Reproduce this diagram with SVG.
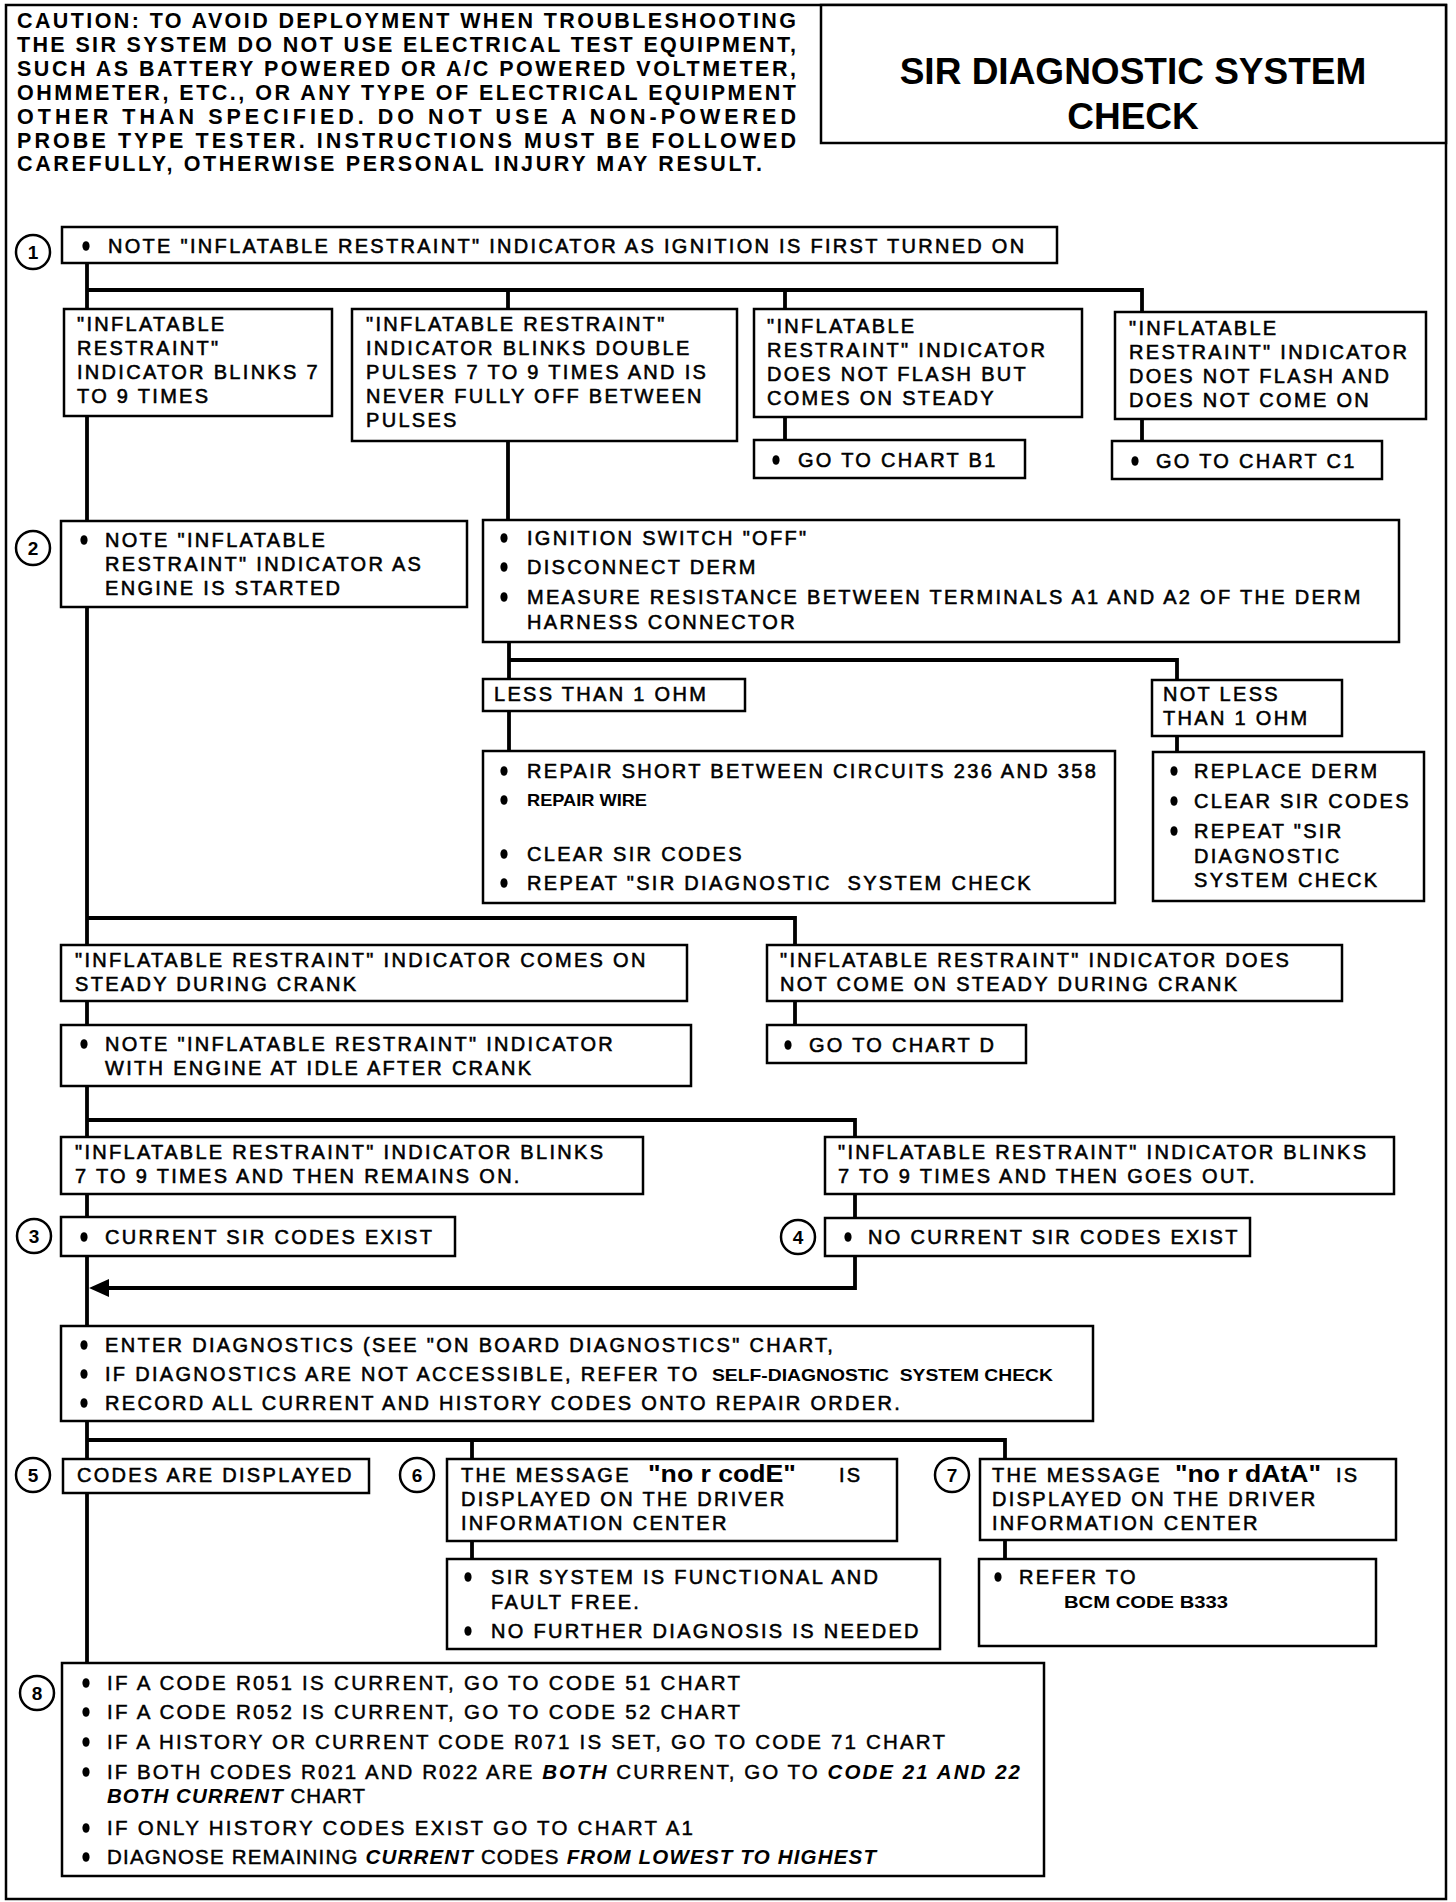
<svg xmlns="http://www.w3.org/2000/svg" width="1456" height="1902" viewBox="0 0 1456 1902">
<style>
.frame{fill:none;stroke:#000;stroke-width:2.5}
.box{fill:#fff;stroke:#000;stroke-width:2.5}
.ln{fill:none;stroke:#000;stroke-width:3.8}
.cir{fill:#fff;stroke:#000;stroke-width:2.5}
.dot{fill:#000}
text{font-family:"Liberation Sans",Arial,Helvetica,sans-serif;fill:#000}
.t{font-size:20px;letter-spacing:2.3px;stroke:#000;stroke-width:0.55px}
.num{font-size:19px;font-weight:bold;text-anchor:middle}
.cau{font-size:21.5px;font-weight:bold}
.ttl{font-size:37px;font-weight:bold;text-anchor:middle}
.sm{font-size:16.5px;font-weight:bold}
.big{font-size:23px;font-weight:bold;letter-spacing:0}
.r8{font-size:20.5px;stroke:#000;stroke-width:0.45px}
.bi{font-weight:bold;font-style:italic;stroke-width:0}
</style>
<defs>
<ellipse id="b" class="dot" cx="0" cy="0" rx="3.6" ry="4.8"/>
</defs>
<rect width="1456" height="1902" fill="#fff"/>
<rect class="frame" x="6" y="5" width="1440" height="1894"/>

<g id="caution">
<text class="cau" x="17" y="28" textLength="779" lengthAdjust="spacing">CAUTION: TO AVOID DEPLOYMENT WHEN TROUBLESHOOTING</text>
<text class="cau" x="17" y="52" textLength="779" lengthAdjust="spacing">THE SIR SYSTEM DO NOT USE ELECTRICAL TEST EQUIPMENT,</text>
<text class="cau" x="17" y="76" textLength="779" lengthAdjust="spacing">SUCH AS BATTERY POWERED OR A/C POWERED VOLTMETER,</text>
<text class="cau" x="17" y="100" textLength="779" lengthAdjust="spacing">OHMMETER, ETC., OR ANY TYPE OF ELECTRICAL EQUIPMENT</text>
<text class="cau" x="17" y="124" textLength="779" lengthAdjust="spacing">OTHER THAN SPECIFIED. DO NOT USE A NON-POWERED</text>
<text class="cau" x="17" y="148" textLength="779" lengthAdjust="spacing">PROBE TYPE TESTER. INSTRUCTIONS MUST BE FOLLOWED</text>
<text class="cau" x="17" y="171" textLength="745" lengthAdjust="spacing">CAREFULLY, OTHERWISE PERSONAL INJURY MAY RESULT.</text>
</g>

<g id="title">
<rect class="box" x="821" y="5" width="625" height="138"/>
<text class="ttl" x="1133" y="84">SIR DIAGNOSTIC SYSTEM</text>
<text class="ttl" x="1133" y="129">CHECK</text>
</g>

<g id="connectors">
<path class="ln" d="M87,263 V309 M87,290 H1142 V312 M508,290 V309 M785,290 V309"/>
<path class="ln" d="M785,417 V440 M1142,419 V441"/>
<path class="ln" d="M87,416 V521 M508,441 V520"/>
<path class="ln" d="M87,607 V945 M87,918 H795 V945"/>
<path class="ln" d="M509,642 V679 M509,660 H1177 V680 M509,711 V751 M1177,736 V752"/>
<path class="ln" d="M87,1001 V1025 M795,1001 V1025"/>
<path class="ln" d="M87,1086 V1137 M87,1120 H855 V1137"/>
<path class="ln" d="M87,1194 V1217 M855,1194 V1218"/>
<path class="ln" d="M87,1256 V1326 M855,1256 V1288 H104"/>
<polygon points="89,1288 109,1279 109,1297" fill="#000"/>
<path class="ln" d="M87,1421 V1459 M87,1440 H1005 V1459 M472,1440 V1459"/>
<path class="ln" d="M472,1541 V1559 M1005,1540 V1559"/>
<path class="ln" d="M87,1493 V1663"/>
</g>

<g id="step1">
<circle class="cir" cx="33" cy="252" r="17"/>
<text class="num" x="33" y="259">1</text>
<rect class="box" x="62" y="227" width="995" height="36"/>
<use href="#b" x="86" y="246"/>
<text class="t" x="108" y="253">NOTE "INFLATABLE RESTRAINT" INDICATOR AS IGNITION IS FIRST TURNED ON</text>
</g>

<g id="blinks7to9">
<rect class="box" x="64" y="309" width="268" height="107"/>
<text class="t" x="77" y="331">"INFLATABLE</text>
<text class="t" x="77" y="355">RESTRAINT"</text>
<text class="t" x="77" y="379">INDICATOR BLINKS 7</text>
<text class="t" x="77" y="403">TO 9 TIMES</text>
</g>

<g id="doublepulses">
<rect class="box" x="352" y="309" width="385" height="132"/>
<text class="t" x="366" y="331">"INFLATABLE RESTRAINT"</text>
<text class="t" x="366" y="355">INDICATOR BLINKS DOUBLE</text>
<text class="t" x="366" y="379">PULSES 7 TO 9 TIMES AND IS</text>
<text class="t" x="366" y="403">NEVER FULLY OFF BETWEEN</text>
<text class="t" x="366" y="427">PULSES</text>
</g>

<g id="steady">
<rect class="box" x="754" y="309" width="328" height="108"/>
<text class="t" x="767" y="333">"INFLATABLE</text>
<text class="t" x="767" y="357">RESTRAINT" INDICATOR</text>
<text class="t" x="767" y="381">DOES NOT FLASH BUT</text>
<text class="t" x="767" y="405">COMES ON STEADY</text>
</g>

<g id="nocomeon">
<rect class="box" x="1115" y="312" width="311" height="107"/>
<text class="t" x="1129" y="335">"INFLATABLE</text>
<text class="t" x="1129" y="359">RESTRAINT" INDICATOR</text>
<text class="t" x="1129" y="383">DOES NOT FLASH AND</text>
<text class="t" x="1129" y="407">DOES NOT COME ON</text>
</g>

<g id="chartB1">
<rect class="box" x="754" y="440" width="271" height="38"/>
<use href="#b" x="776" y="460"/>
<text class="t" x="798" y="467">GO TO CHART B1</text>
</g>

<g id="chartC1">
<rect class="box" x="1112" y="441" width="270" height="38"/>
<use href="#b" x="1135" y="461"/>
<text class="t" x="1156" y="468">GO TO CHART C1</text>
</g>

<g id="step2">
<circle class="cir" cx="33" cy="548" r="17"/>
<text class="num" x="33" y="555">2</text>
<rect class="box" x="61" y="521" width="406" height="86"/>
<use href="#b" x="84" y="540"/>
<text class="t" x="105" y="547">NOTE "INFLATABLE</text>
<text class="t" x="105" y="571">RESTRAINT" INDICATOR AS</text>
<text class="t" x="105" y="595">ENGINE IS STARTED</text>
</g>

<g id="ignitionoff">
<rect class="box" x="483" y="520" width="916" height="122"/>
<use href="#b" x="504" y="538"/>
<text class="t" x="527" y="545">IGNITION SWITCH "OFF"</text>
<use href="#b" x="504" y="567"/>
<text class="t" x="527" y="574">DISCONNECT DERM</text>
<use href="#b" x="504" y="597"/>
<text class="t" x="527" y="604">MEASURE RESISTANCE BETWEEN TERMINALS A1 AND A2 OF THE DERM</text>
<text class="t" x="527" y="629">HARNESS CONNECTOR</text>
</g>

<g id="lessthan">
<rect class="box" x="483" y="679" width="262" height="32"/>
<text class="t" x="494" y="701">LESS THAN 1 OHM</text>
</g>

<g id="notless">
<rect class="box" x="1152" y="680" width="190" height="56"/>
<text class="t" x="1163" y="701">NOT LESS</text>
<text class="t" x="1163" y="725">THAN 1 OHM</text>
</g>

<g id="repairshort">
<rect class="box" x="483" y="751" width="632" height="152"/>
<use href="#b" x="504" y="771"/>
<text class="t" x="527" y="778">REPAIR SHORT BETWEEN CIRCUITS 236 AND 358</text>
<use href="#b" x="504" y="800"/>
<text class="sm" x="527" y="806" textLength="120" lengthAdjust="spacingAndGlyphs">REPAIR WIRE</text>
<use href="#b" x="504" y="854"/>
<text class="t" x="527" y="861">CLEAR SIR CODES</text>
<use href="#b" x="504" y="883"/>
<text class="t" x="527" y="890" xml:space="preserve">REPEAT "SIR DIAGNOSTIC  SYSTEM CHECK</text>
</g>

<g id="replacederm">
<rect class="box" x="1153" y="752" width="271" height="149"/>
<use href="#b" x="1174" y="771"/>
<text class="t" x="1194" y="778">REPLACE DERM</text>
<use href="#b" x="1174" y="801"/>
<text class="t" x="1194" y="808">CLEAR SIR CODES</text>
<use href="#b" x="1174" y="831"/>
<text class="t" x="1194" y="838">REPEAT "SIR</text>
<text class="t" x="1194" y="863">DIAGNOSTIC</text>
<text class="t" x="1194" y="887">SYSTEM CHECK</text>
</g>

<g id="comesonsteady">
<rect class="box" x="61" y="945" width="626" height="56"/>
<text class="t" x="75" y="967">"INFLATABLE RESTRAINT" INDICATOR COMES ON</text>
<text class="t" x="75" y="991">STEADY DURING CRANK</text>
</g>

<g id="notsteady">
<rect class="box" x="767" y="945" width="575" height="56"/>
<text class="t" x="780" y="967">"INFLATABLE RESTRAINT" INDICATOR DOES</text>
<text class="t" x="780" y="991">NOT COME ON STEADY DURING CRANK</text>
</g>

<g id="noteidle">
<rect class="box" x="61" y="1025" width="630" height="61"/>
<use href="#b" x="84" y="1044"/>
<text class="t" x="105" y="1051">NOTE "INFLATABLE RESTRAINT" INDICATOR</text>
<text class="t" x="105" y="1075">WITH ENGINE AT IDLE AFTER CRANK</text>
</g>

<g id="chartD">
<rect class="box" x="767" y="1025" width="259" height="38"/>
<use href="#b" x="788" y="1045"/>
<text class="t" x="809" y="1052">GO TO CHART D</text>
</g>

<g id="remainson">
<rect class="box" x="61" y="1137" width="582" height="57"/>
<text class="t" x="75" y="1159">"INFLATABLE RESTRAINT" INDICATOR BLINKS</text>
<text class="t" x="75" y="1183">7 TO 9 TIMES AND THEN REMAINS ON.</text>
</g>

<g id="goesout">
<rect class="box" x="825" y="1137" width="569" height="57"/>
<text class="t" x="838" y="1159">"INFLATABLE RESTRAINT" INDICATOR BLINKS</text>
<text class="t" x="838" y="1183">7 TO 9 TIMES AND THEN GOES OUT.</text>
</g>

<g id="step3">
<circle class="cir" cx="34" cy="1236" r="17"/>
<text class="num" x="34" y="1243">3</text>
<rect class="box" x="61" y="1217" width="394" height="39"/>
<use href="#b" x="84" y="1237"/>
<text class="t" x="105" y="1244">CURRENT SIR CODES EXIST</text>
</g>

<g id="step4">
<circle class="cir" cx="798" cy="1237" r="17"/>
<text class="num" x="798" y="1244">4</text>
<rect class="box" x="825" y="1218" width="425" height="38"/>
<use href="#b" x="848" y="1237"/>
<text class="t" x="868" y="1244">NO CURRENT SIR CODES EXIST</text>
</g>

<g id="enterdiag">
<rect class="box" x="61" y="1326" width="1032" height="95"/>
<use href="#b" x="84" y="1345"/>
<text class="t" x="105" y="1352">ENTER DIAGNOSTICS (SEE "ON BOARD DIAGNOSTICS" CHART,</text>
<use href="#b" x="84" y="1374"/>
<text class="t" x="105" y="1381">IF DIAGNOSTICS ARE NOT ACCESSIBLE, REFER TO</text>
<text class="sm" x="712" y="1381" textLength="341" lengthAdjust="spacingAndGlyphs" xml:space="preserve">SELF-DIAGNOSTIC  SYSTEM CHECK</text>
<use href="#b" x="84" y="1403"/>
<text class="t" x="105" y="1410">RECORD ALL CURRENT AND HISTORY CODES ONTO REPAIR ORDER.</text>
</g>

<g id="step5">
<circle class="cir" cx="33" cy="1475" r="17"/>
<text class="num" x="33" y="1482">5</text>
<rect class="box" x="63" y="1459" width="306" height="34"/>
<text class="t" x="77" y="1482">CODES ARE DISPLAYED</text>
</g>

<g id="step6">
<circle class="cir" cx="417" cy="1475" r="17"/>
<text class="num" x="417" y="1482">6</text>
<rect class="box" x="447" y="1459" width="450" height="82"/>
<text class="t" x="461" y="1482">THE MESSAGE</text>
<text class="big" x="648" y="1482" textLength="148" lengthAdjust="spacingAndGlyphs">"no r codE"</text>
<text class="t" x="839" y="1482">IS</text>
<text class="t" x="461" y="1506">DISPLAYED ON THE DRIVER</text>
<text class="t" x="461" y="1530">INFORMATION CENTER</text>
</g>

<g id="functional">
<rect class="box" x="447" y="1559" width="493" height="90"/>
<use href="#b" x="468" y="1577"/>
<text class="t" x="491" y="1584">SIR SYSTEM IS FUNCTIONAL AND</text>
<text class="t" x="491" y="1609">FAULT FREE.</text>
<use href="#b" x="468" y="1631"/>
<text class="t" x="491" y="1638">NO FURTHER DIAGNOSIS IS NEEDED</text>
</g>

<g id="step7">
<circle class="cir" cx="952" cy="1475" r="17"/>
<text class="num" x="952" y="1482">7</text>
<rect class="box" x="980" y="1459" width="416" height="81"/>
<text class="t" x="992" y="1482">THE MESSAGE</text>
<text class="big" x="1175" y="1482" textLength="146" lengthAdjust="spacingAndGlyphs">"no r dAtA"</text>
<text class="t" x="1336" y="1482">IS</text>
<text class="t" x="992" y="1506">DISPLAYED ON THE DRIVER</text>
<text class="t" x="992" y="1530">INFORMATION CENTER</text>
</g>

<g id="referbcm">
<rect class="box" x="979" y="1559" width="397" height="87"/>
<use href="#b" x="998" y="1577"/>
<text class="t" x="1019" y="1584">REFER TO</text>
<text class="sm" x="1064" y="1608" textLength="164" lengthAdjust="spacingAndGlyphs">BCM CODE B333</text>
</g>

<g id="step8">
<circle class="cir" cx="37" cy="1693" r="17"/>
<text class="num" x="37" y="1700">8</text>
<rect class="box" x="62" y="1663" width="982" height="213"/>
<use href="#b" x="86" y="1683"/>
<text class="r8" x="107" y="1690" textLength="633" lengthAdjust="spacing">IF A CODE R051 IS CURRENT, GO TO CODE 51 CHART</text>
<use href="#b" x="86" y="1712"/>
<text class="r8" x="107" y="1719" textLength="633" lengthAdjust="spacing">IF A CODE R052 IS CURRENT, GO TO CODE 52 CHART</text>
<use href="#b" x="86" y="1742"/>
<text class="r8" x="107" y="1749" textLength="838" lengthAdjust="spacing">IF A HISTORY OR CURRENT CODE R071 IS SET, GO TO CODE 71 CHART</text>
<use href="#b" x="86" y="1772"/>
<text class="r8" x="107" y="1779" textLength="913" lengthAdjust="spacing">IF BOTH CODES R021 AND R022 ARE <tspan class="bi">BOTH</tspan> CURRENT, GO TO <tspan class="bi">CODE 21 AND 22</tspan></text>
<text class="r8" x="107" y="1803" textLength="258" lengthAdjust="spacing"><tspan class="bi">BOTH CURRENT</tspan> CHART</text>
<use href="#b" x="86" y="1828"/>
<text class="r8" x="107" y="1835" textLength="586" lengthAdjust="spacing">IF ONLY HISTORY CODES EXIST GO TO CHART A1</text>
<use href="#b" x="86" y="1857"/>
<text class="r8" x="107" y="1864" textLength="769" lengthAdjust="spacing">DIAGNOSE REMAINING <tspan class="bi">CURRENT</tspan> CODES <tspan class="bi">FROM LOWEST TO HIGHEST</tspan></text>
</g>
</svg>
